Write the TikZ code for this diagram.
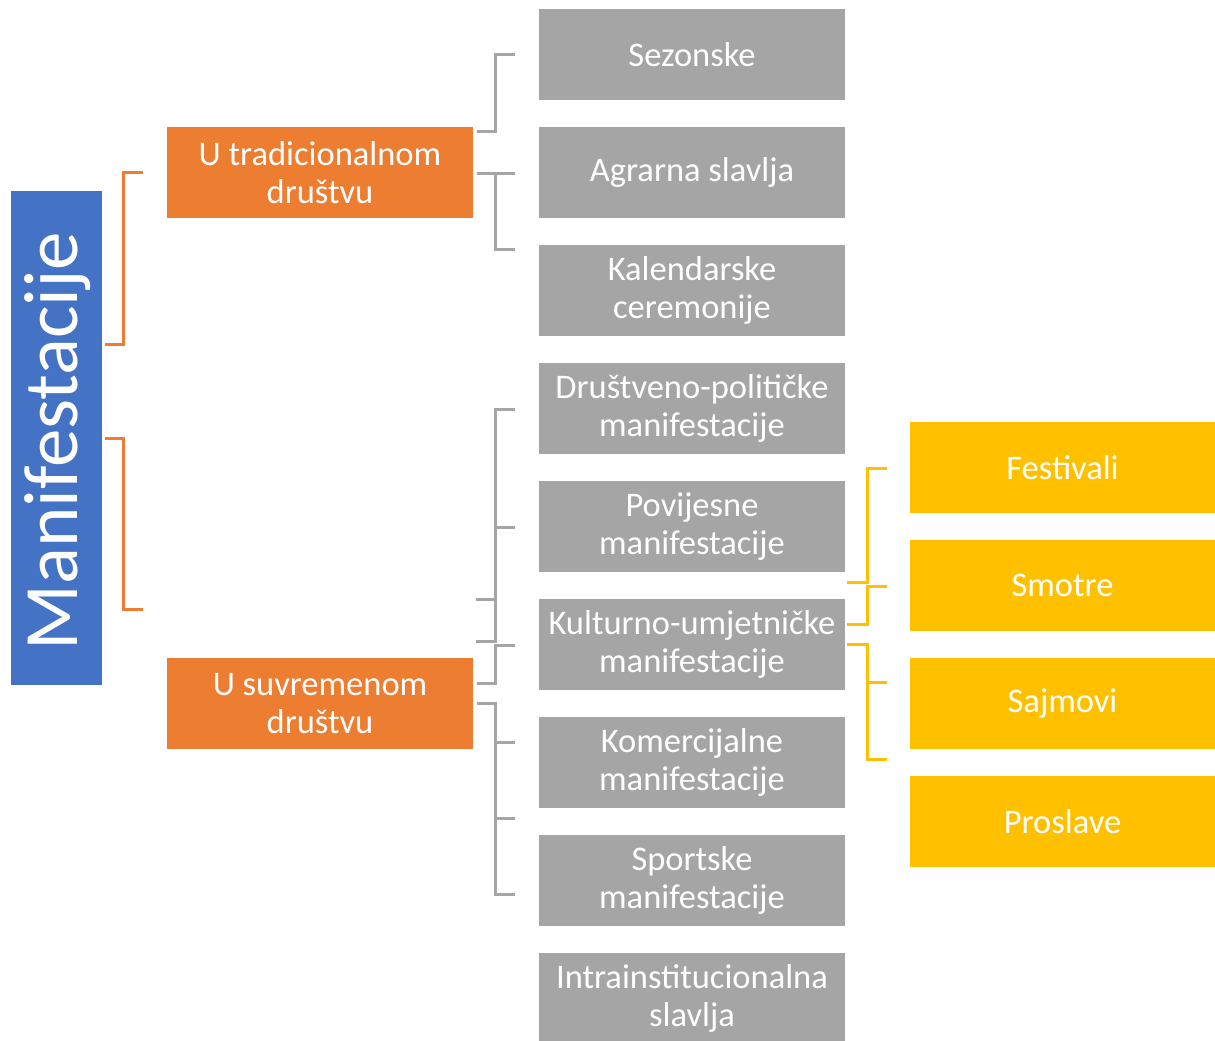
\documentclass[tikz,border=0pt]{standalone}
\usepackage{fontspec}
\setmainfont{Carlito}
\definecolor{cblue}{HTML}{4472C4}
\definecolor{corange}{HTML}{ED7D31}
\definecolor{cgray}{HTML}{A5A5A5}
\definecolor{cyellow}{HTML}{FFC000}
\begin{document}
\begin{tikzpicture}[x=1pt,y=-1pt,
  box/.style={rectangle,inner sep=0pt,minimum width=306pt,minimum height=91pt,text=white,align=center,font=\fontsize{34.5}{38}\selectfont},
  graybox/.style={box,fill=cgray},
  orangebox/.style={box,fill=corange},
  yellowbox/.style={box,fill=cyellow,minimum width=305pt},
  oline/.style={draw=corange,line width=3pt},
  gline/.style={draw=cgray,line width=3pt},
  yline/.style={draw=cyellow,line width=3pt}]
\useasboundingbox (0,0) rectangle (1215,1041);
\begin{scope}
\clip (0,0) rectangle (1215,1041);
% root
\node[rectangle,fill=cblue,minimum width=91pt,minimum height=494pt,inner sep=0pt] (root) at (56.5,438) {};
\node[rotate=90,text=white,font=\fontsize{77}{80}\selectfont,inner sep=0pt] (roottxt) at (58,441) {Manifestacije};
% level 1
\node[orangebox] (trad) at (320,172.5) {U tradicionalnom\\društvu};
\node[orangebox] (suv) at (320,703.5) {U suvremenom\\društvu};
% gray column
\node[graybox] (g1) at (692,54.5) {Sezonske};
\node[graybox] (g2) at (692,172.5) {Agrarna slavlja};
\node[graybox] (g3) at (692,290.5) {Kalendarske\\ceremonije};
\node[graybox] (g4) at (692,408.5) {Društveno-političke\\manifestacije};
\node[graybox] (g5) at (692,526.5) {Povijesne\\manifestacije};
\node[graybox] (g6) at (692,644.5) {Kulturno-umjetničke\\manifestacije};
\node[graybox] (g7) at (692,762.5) {Komercijalne\\manifestacije};
\node[graybox] (g8) at (692,880.5) {Sportske\\manifestacije};
\node[graybox] (g9) at (692,998.5) {Intrainstitucionalna\\slavlja};
% yellow column
\node[yellowbox] (y1) at (1062.5,467.5) {Festivali};
\node[yellowbox] (y2) at (1062.5,585.5) {Smotre};
\node[yellowbox] (y3) at (1062.5,703.5) {Sajmovi};
\node[yellowbox] (y4) at (1062.5,821.5) {Proslave};
\end{scope}
% orange brackets
\coordinate (oa1) at (143,172); \coordinate (oa2) at (105,344);
\coordinate (ob1) at (105,438); \coordinate (ob2) at (143,609);
\draw[oline] (oa1) -- (123,172) -- (123,344) -- (oa2);
\draw[oline] (ob1) -- (123,438) -- (123,609) -- (ob2);
% gray brackets
\coordinate (ga1) at (515,55); \coordinate (ga2) at (477,131);
\draw[gline] (ga1) -- (495,55) -- (495,131) -- (ga2);
\coordinate (gb1) at (477,173); \coordinate (gb2) at (515,173); \coordinate (gb3) at (515,249);
\draw[gline] (gb1) -- (gb2);
\draw[gline] (495,173) -- (495,249) -- (gb3);
\coordinate (gc1) at (515,409); \coordinate (gc2) at (476,641); \coordinate (gc3) at (515,527); \coordinate (gc4) at (476,599);
\draw[gline] (gc1) -- (495,409) -- (495,641) -- (gc2);
\draw[gline] (495,527) -- (gc3);
\draw[gline] (gc4) -- (495,599);
\coordinate (gd1) at (515,645); \coordinate (gd2) at (477,683);
\draw[gline] (gd1) -- (495,645) -- (495,683) -- (gd2);
\coordinate (ge1) at (477,703); \coordinate (ge2) at (515,894); \coordinate (ge3) at (515,742); \coordinate (ge4) at (515,818);
\draw[gline] (ge1) -- (495,703) -- (495,894) -- (ge2);
\draw[gline] (495,742) -- (ge3);
\draw[gline] (495,818) -- (ge4);
% yellow brackets
\coordinate (ya1) at (887,468); \coordinate (ya2) at (847,582);
\draw[yline] (ya1) -- (867,468) -- (867,582) -- (ya2);
\coordinate (yb1) at (887,586); \coordinate (yb2) at (847,624);
\draw[yline] (yb1) -- (867,586) -- (867,624) -- (yb2);
\coordinate (yc1) at (847,644); \coordinate (yc2) at (887,759); \coordinate (yc3) at (887,682);
\draw[yline] (yc1) -- (867,644) -- (867,759) -- (yc2);
\draw[yline] (867,682) -- (yc3);
\end{tikzpicture}
\end{document}
